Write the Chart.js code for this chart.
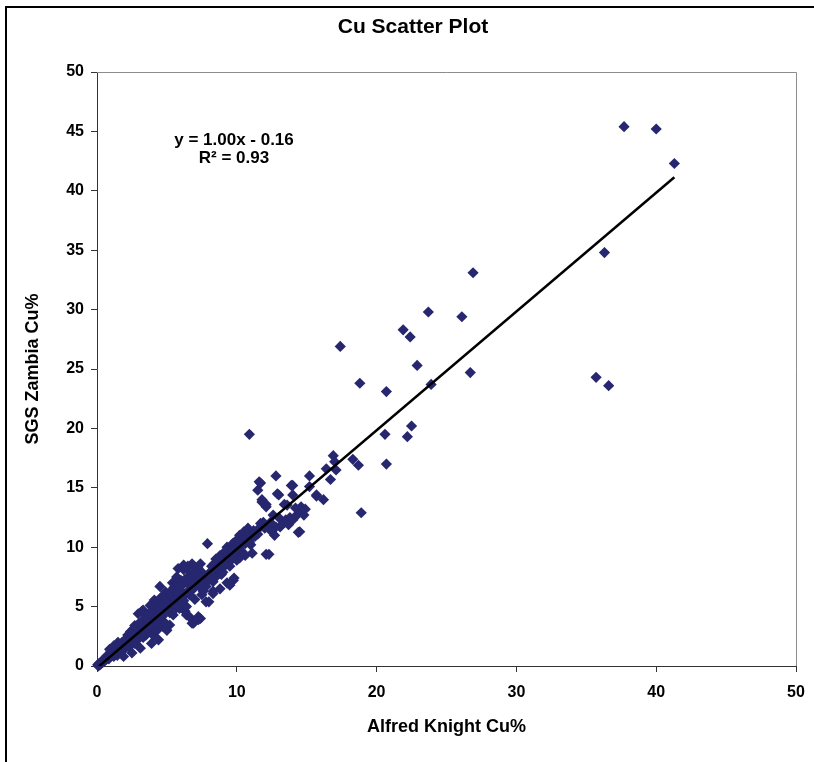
<!DOCTYPE html>
<html lang="en">
<head>
  <meta charset="UTF-8" />
  <title>Cu Scatter Plot</title>
  <script src="https://cdn.jsdelivr.net/npm/chart.js"></script>
  <style>
    * {
      margin: 0;
      padding: 0;
      box-sizing: border-box;
    }
    body {
      background: #fff;
      width: 814px;
      height: 762px;
      overflow: hidden;
      position: relative;
    }
    .moldura {
      position: absolute;
      left: 5px;
      top: 6px;
      width: 1000px;
      height: 1000px;
      border-left: 2px solid #000;
      border-top: 2px solid #000;
    }
    .grafico {
      position: absolute;
      left: 0;
      top: 0;
    }
  </style>
</head>
<body>
  <div class="moldura"></div>
  <div class="grafico"><canvas id="grafico" width="814" height="762"></canvas></div>

  <script>
    // Alfred Knight Cu% (x) e SGS Zambia Cu% (y)
    const alfredKnight = [
      0.1, 0.05, 0.15, 0.2, 0.25, 0.3, 0.35, 0.4, 0.45, 0.5,
      0.55, 0.6, 0.65, 0.7, 0.75, 0.8, 0.85, 0.9, 0.95, 1.0,
      1.05, 1.1, 1.15, 1.2, 1.3, 1.35, 1.4, 1.45, 1.5, 1.55,
      1.6, 1.65, 1.7, 1.75, 1.8, 1.85, 1.9, 1.95, 2.0, 2.0,
      0.9, 1.2, 1.5, 2.2, 2.4, 2.6, 2.8, 2.95, 3.1, 3.2,
      3.3, 3.4, 3.6, 3.8, 4.0, 4.1, 4.3, 4.5, 4.4, 4.6,
      4.9, 4.8, 5.0, 2.2, 2.4, 2.6, 2.8, 3.0, 3.2, 3.4,
      3.6, 3.8, 4.0, 4.2, 4.4, 4.6, 4.8, 5.0, 3.5, 4.1,
      4.7, 3.9, 4.5, 2.3, 2.5, 2.7, 2.9, 3.1, 3.3, 3.3,
      3.5, 3.7, 3.9, 4.0, 4.2, 4.3, 4.4, 4.6, 4.75, 4.9,
      5.0, 5.2, 5.4, 5.5, 5.7, 5.8, 5.9, 6.0, 6.2, 6.2,
      6.4, 6.5, 6.6, 6.8, 6.8, 7.0, 7.1, 7.2, 7.4, 7.6,
      7.8, 7.9, 8.0, 7.5, 5.1, 5.3, 5.5, 5.6, 5.8, 6.0,
      6.1, 6.3, 6.5, 6.7, 6.9, 7.1, 7.3, 7.5, 7.7, 7.9,
      5.4, 6.6, 5.2, 5.45, 5.2, 5.6, 5.9, 6.1, 6.3, 6.4,
      6.4, 6.65, 6.8, 6.9, 7.25, 7.4, 7.25, 7.5, 7.8, 8.0,
      7.0, 7.6, 8.3, 8.3, 8.2, 8.4, 8.6, 8.8, 9.0, 9.3,
      9.5, 9.7, 9.9, 10.0, 10.2, 10.4, 10.5, 10.7, 10.9, 11.0,
      8.5, 9.1, 10.1, 10.8, 8.1, 8.3, 8.5, 8.8, 9.0, 9.3,
      9.5, 9.75, 9.8, 9.75, 10.0, 10.2, 10.4, 10.6, 11.1, 8.7,
      9.2, 9.5, 11.2, 11.5, 11.7, 11.9, 12.0, 12.2, 12.4, 12.6,
      12.8, 13.1, 13.3, 13.5, 13.8, 14.0, 14.3, 14.5, 14.4, 14.6,
      14.8, 14.5, 13.6, 13.4, 12.1, 11.8, 12.1, 11.8, 11.5, 11.6,
      11.7, 12.9, 13.0, 12.8, 13.9, 14.0, 14.0, 15.2, 15.7, 15.7,
      16.2, 12.3, 12.1, 11.0, 15.2, 14.3, 16.4, 16.7, 16.9, 17.0,
      17.1, 18.3, 18.7, 17.4, 18.8, 18.9, 20.6, 20.7, 20.7, 10.9,
      21.9, 22.4, 22.9, 23.7, 23.9, 26.1, 26.7, 26.9, 35.7, 36.6,
      36.3, 37.7, 40.0, 41.3, 22.5, 22.2,
      2.5, 2.7, 3.0, 3.2, 3.6, 3.8, 4.2, 4.5, 4.7, 4.3,
      5.3, 5.6, 5.8, 6.1, 6.3, 6.6, 6.9, 7.2, 7.4, 7.7,
      5.7, 6.2, 8.4, 8.7, 8.9, 9.2, 9.4, 9.6, 9.9, 10.3,
      10.6, 10.9, 8.9, 9.6, 11.3, 11.6, 12.5, 13.0, 13.7, 14.2,
      14.9, 12.7
    ];
    const sgsZambia = [
      0.0, 0.1, 0.2, 0.1, 0.3, 0.2, 0.4, 0.3, 0.5, 0.4,
      0.6, 0.5, 0.8, 0.6, 0.7, 0.9, 0.6, 1.0, 0.8, 1.2,
      0.9, 1.0, 1.3, 0.8, 1.1, 1.5, 1.2, 0.9, 1.6, 1.3,
      1.1, 1.8, 1.5, 1.2, 2.0, 1.7, 0.8, 1.4, 2.2, 1.7,
      1.4, 1.7, 2.0, 2.6, 2.9, 3.1, 3.0, 4.4, 3.5, 4.6,
      4.7, 4.0, 4.3, 5.1, 4.7, 5.55, 4.7, 6.7, 5.3, 5.8,
      6.25, 5.5, 5.9, 2.0, 2.3, 2.5, 2.7, 2.9, 3.1, 3.4,
      3.5, 3.7, 4.0, 4.1, 4.3, 4.5, 4.8, 4.9, 3.8, 3.7,
      4.2, 3.3, 3.9, 1.6, 1.1, 1.9, 2.2, 1.5, 2.4, 2.9,
      2.6, 2.9, 1.9, 2.6, 3.0, 3.0, 2.2, 3.4, 3.3, 3.6,
      3.0, 6.2, 7.0, 6.6, 7.5, 8.2, 6.4, 7.2, 8.5, 8.1,
      8.2, 8.4, 7.6, 8.6, 7.5, 8.0, 7.8, 8.3, 8.6, 7.2,
      6.7, 10.3, 7.8, 7.9, 5.2, 5.0, 5.6, 5.3, 5.9, 5.7,
      6.2, 6.0, 6.3, 6.8, 6.5, 7.1, 6.8, 7.4, 7.5, 7.2,
      5.8, 6.9, 4.5, 4.3, 3.45, 4.8, 4.85, 5.3, 4.6, 5.0,
      4.3, 4.1, 3.6, 3.6, 4.15, 4.0, 3.9, 6.0, 5.4, 5.4,
      5.6, 6.3, 6.3, 6.1, 8.4, 8.1, 8.8, 9.3, 8.7, 10.0,
      9.2, 10.3, 10.5, 9.8, 11.0, 10.6, 11.3, 10.9, 11.2, 10.7,
      9.0, 9.5, 10.4, 11.6, 7.6, 7.1, 7.5, 6.5, 7.9, 7.0,
      8.4, 7.2, 7.4, 9.35, 8.9, 9.1, 9.6, 9.3, 9.5, 8.0,
      8.5, 6.8, 11.4, 11.1, 12.0, 12.1, 11.6, 11.8, 12.1, 12.7,
      11.7, 11.7, 12.0, 12.3, 12.5, 12.3, 12.7, 11.3, 11.25, 13.4,
      12.7, 13.1, 13.55, 13.6, 13.4, 13.8, 13.6, 14.0, 14.8, 15.5,
      15.4, 14.5, 14.4, 16.0, 15.2, 15.2, 14.4, 16.0, 14.3, 14.4,
      14.0, 9.4, 9.4, 10.2, 15.1, 12.7, 16.6, 15.7, 17.7, 17.2,
      16.5, 17.4, 16.9, 26.9, 23.8, 12.9, 19.5, 17.0, 23.1, 19.5,
      28.3, 27.7, 25.3, 29.8, 23.7, 29.4, 24.7, 33.1, 24.3, 23.6,
      34.8, 45.4, 45.2, 42.3, 20.2, 19.3,
      2.7, 3.4, 3.6, 2.6, 3.1, 4.5, 5.0, 4.8, 5.1, 3.5,
      6.0, 6.3, 7.0, 6.8, 7.3, 6.0, 7.2, 7.6, 6.6, 6.9,
      5.0, 5.5, 8.6, 9.1, 8.4, 9.7, 9.0, 9.7, 9.4, 10.2,
      10.3, 10.4, 7.7, 8.9, 10.9, 11.6, 11.3, 12.5, 11.9, 13.3,
      13.2, 11.0
    ];

    // linha de tendência (Excel): y = 1.00x - 0.16, R² = 0.93
    const inclinacao = 1.0;
    const intercepto = -0.16;
    const r2 = 0.93;

    const ticksX = [0, 10, 20, 30, 40, 50];
    const ticksY = [0, 5, 10, 15, 20, 25, 30, 35, 40, 45, 50];

    const pontos = alfredKnight.map((x, i) => ({ x: x, y: sgsZambia[i] }));
    const xMin = Math.min(...alfredKnight);
    const xMax = Math.max(...alfredKnight);
    const tendencia = [
      { x: xMin, y: inclinacao * xMin + intercepto },
      { x: xMax, y: inclinacao * xMax + intercepto },
    ];

    Chart.defaults.font.family = '"Liberation Sans", Arial, sans-serif';
    Chart.defaults.color = '#000';

    // titulo, equação e borda cinza da área do gráfico
    const extras = {
      id: 'extras',
      beforeDatasetsDraw(chart) {
        const { ctx, chartArea: a } = chart;
        ctx.save();
        ctx.strokeStyle = '#8c8c8c';
        ctx.lineWidth = 1;
        ctx.beginPath();
        ctx.moveTo(a.left, Math.round(a.top) + 0.5);
        ctx.lineTo(Math.round(a.right) + 0.5, Math.round(a.top) + 0.5);
        ctx.lineTo(Math.round(a.right) + 0.5, a.bottom);
        ctx.stroke();
        ctx.restore();
      },
      afterDraw(chart) {
        const { ctx, chartArea: a } = chart;
        ctx.save();
        ctx.fillStyle = '#000';
        ctx.textAlign = 'center';
        ctx.textBaseline = 'middle';
        ctx.font = 'bold 21px "Liberation Sans", Arial, sans-serif';
        ctx.fillText('Cu Scatter Plot', 413, 27);
        ctx.font = 'bold 17px "Liberation Sans", Arial, sans-serif';
        const sinal = intercepto < 0 ? '-' : '+';
        ctx.fillText('y = ' + inclinacao.toFixed(2) + 'x ' + sinal + ' ' + Math.abs(intercepto).toFixed(2), a.left + 137, a.top + 68);
        ctx.fillText('R² = ' + r2.toFixed(2), a.left + 137, a.top + 86);
        ctx.restore();
      },
    };

    const ctx = document.getElementById('grafico').getContext('2d');
    new Chart(ctx, {
      type: 'scatter',
      data: {
        datasets: [
          {
            label: 'Linear',
            data: tendencia,
            showLine: true,
            borderColor: '#000',
            borderWidth: 2.5,
            pointRadius: 0,
            fill: false,
          },
          {
            label: 'Cu',
            data: pontos,
            pointStyle: 'rectRot',
            pointRadius: 5.6,
            pointBackgroundColor: '#27276f',
            pointBorderWidth: 0,
            clip: false,
          },
        ],
      },
      options: {
        responsive: false,
        animation: false,
        layout: { padding: { top: 72, right: 18, bottom: 0, left: 0 } },
        plugins: {
          legend: { display: false },
          tooltip: { enabled: false },
        },
        scales: {
          x: {
            type: 'linear',
            min: 0,
            max: 50,
            afterBuildTicks: (s) => { s.ticks = ticksX.map((v) => ({ value: v })); },
            ticks: { color: '#000', font: { size: 16, weight: 'bold' }, padding: 11 },
            grid: { drawOnChartArea: false, tickLength: 6, tickColor: '#333' },
            border: { color: '#333', width: 1 },
            title: {
              display: true,
              text: 'Alfred Knight Cu%',
              color: '#000',
              font: { size: 18, weight: 'bold' },
              padding: { top: 0, bottom: 24 },
            },
            afterFit: (s) => { s.height = 96; s.paddingLeft = 0; s.paddingRight = 0; },
          },
          y: {
            type: 'linear',
            min: 0,
            max: 50,
            afterBuildTicks: (s) => { s.ticks = ticksY.map((v) => ({ value: v })); },
            ticks: { color: '#000', font: { size: 16, weight: 'bold' }, padding: 7 },
            grid: { drawOnChartArea: false, tickLength: 6, tickColor: '#333' },
            border: { color: '#333', width: 1 },
            title: {
              display: true,
              text: 'SGS Zambia Cu%',
              color: '#000',
              font: { size: 18, weight: 'bold' },
              padding: { top: 22, bottom: 0 },
            },
            afterFit: (s) => { s.width = 97; s.paddingTop = 0; s.paddingBottom = 0; },
          },
        },
      },
      plugins: [extras],
    });
  </script>
</body>
</html>
